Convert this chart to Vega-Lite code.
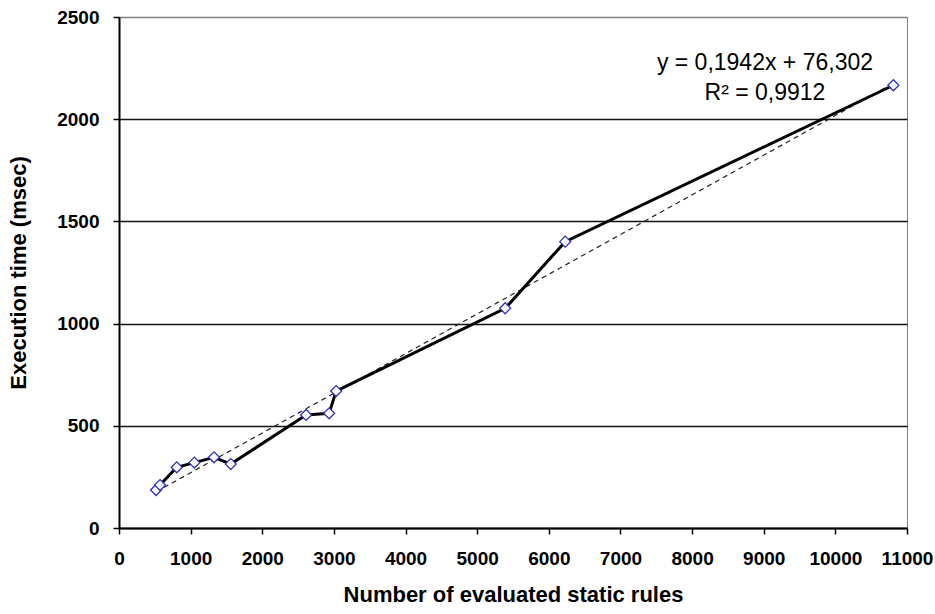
{
  "$schema": "https://vega.github.io/schema/vega-lite/v6.json",
  "width": 788,
  "height": 511,
  "autosize": {"type": "none"},
  "padding": {"left": 119, "top": 17, "right": 28, "bottom": 86},
  "background": "white",
  "config": {
    "view": {"stroke": "#808080", "strokeWidth": 1},
    "font": "Liberation Sans"
  },
  "datasets": {
    "pts": [
      {"rules": 517, "time": 186},
      {"rules": 573, "time": 210},
      {"rules": 806, "time": 297},
      {"rules": 1052, "time": 320},
      {"rules": 1327, "time": 346},
      {"rules": 1560, "time": 313},
      {"rules": 2612, "time": 553},
      {"rules": 2933, "time": 561},
      {"rules": 3031, "time": 670},
      {"rules": 5391, "time": 1075},
      {"rules": 6229, "time": 1401},
      {"rules": 10810, "time": 2166}
    ],
    "trend": [
      {"rules": 517, "time": 176.7},
      {"rules": 10810, "time": 2175.6}
    ],
    "labels": [
      {"rules": 9017, "time": 2275, "text": "y = 0,1942x + 76,302"},
      {"rules": 9017, "time": 2128, "text": "R² = 0,9912"}
    ]
  },
  "layer": [
    {
      "data": {"name": "trend"},
      "mark": {"type": "line", "color": "#222222", "strokeWidth": 1.2, "strokeDash": [5, 4]},
      "encoding": {
        "x": {
          "field": "rules", "type": "quantitative",
          "scale": {"domain": [0, 11000], "nice": false},
          "axis": {
            "title": "Number of evaluated static rules",
            "values": [0,1000,2000,3000,4000,5000,6000,7000,8000,9000,10000,11000],
            "format": "d",
            "grid": false,
            "domainColor": "black", "domainWidth": 2,
            "tickColor": "black", "tickWidth": 1.5, "tickSize": 6,
            "labelFont": "Liberation Sans", "labelFontWeight": "bold", "labelFontSize": 19, "labelColor": "black",
            "labelPadding": 15, "labelFlush": false, "labelOverlap": false,
            "titleFont": "Liberation Sans", "titleFontWeight": "bold", "titleFontSize": 22, "titleColor": "black",
            "titlePadding": 16
          }
        },
        "y": {
          "field": "time", "type": "quantitative",
          "scale": {"domain": [0, 2500], "nice": false},
          "axis": {
            "title": "Execution time (msec)",
            "values": [0, 500, 1000, 1500, 2000, 2500],
            "format": "d",
            "grid": true,
            "gridColor": {"condition": {"test": "datum.value === 2500", "value": "#808080"}, "value": "#111111"},
            "gridWidth": 1.5,
            "domainColor": "black", "domainWidth": 2,
            "tickColor": "black", "tickWidth": 1.5, "tickSize": 6,
            "labelFont": "Liberation Sans", "labelFontWeight": "bold", "labelFontSize": 19, "labelColor": "black",
            "labelPadding": 14,
            "titleFont": "Liberation Sans", "titleFontWeight": "bold", "titleFontSize": 22, "titleColor": "black",
            "titlePadding": 26
          }
        }
      }
    },
    {
      "data": {"name": "pts"},
      "mark": {"type": "line", "color": "black", "strokeWidth": 3},
      "encoding": {
        "x": {"field": "rules", "type": "quantitative"},
        "y": {"field": "time", "type": "quantitative"}
      }
    },
    {
      "data": {"name": "pts"},
      "mark": {"type": "point", "shape": "diamond", "filled": true, "fill": "white", "stroke": "#3030c0", "strokeWidth": 1.3, "size": 120, "opacity": 1},
      "encoding": {
        "x": {"field": "rules", "type": "quantitative"},
        "y": {"field": "time", "type": "quantitative"}
      }
    },
    {
      "data": {"name": "labels"},
      "mark": {"type": "text", "font": "Liberation Sans", "fontSize": 23, "color": "black", "align": "center", "baseline": "middle"},
      "encoding": {
        "x": {"field": "rules", "type": "quantitative"},
        "y": {"field": "time", "type": "quantitative"},
        "text": {"field": "text"}
      }
    }
  ]
}
